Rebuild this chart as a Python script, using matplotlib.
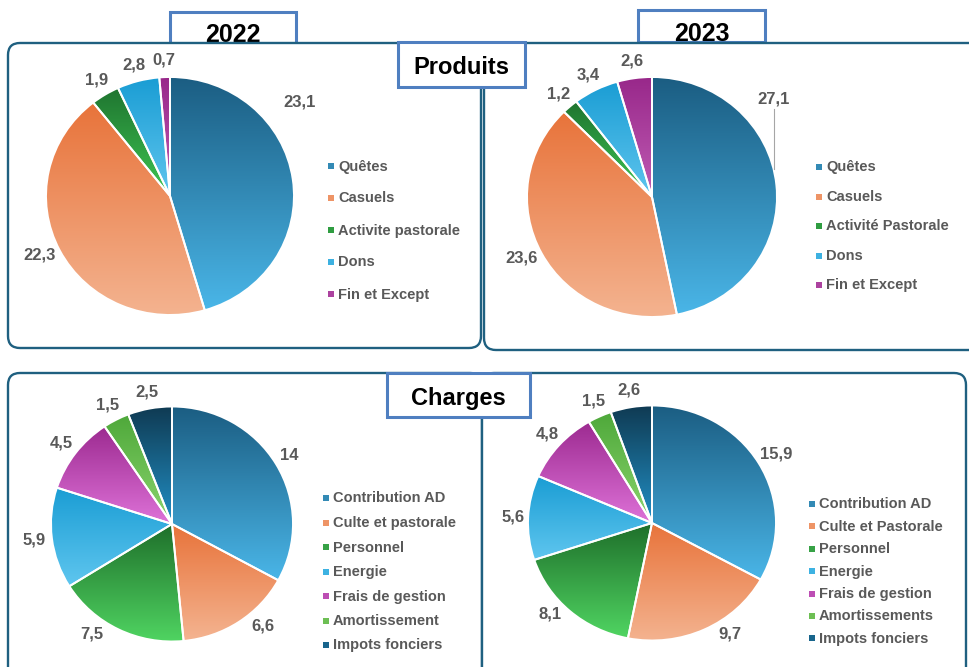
import numpy as np
import matplotlib
matplotlib.use('Agg')
import matplotlib.pyplot as plt
from matplotlib.colors import LinearSegmentedColormap, to_rgb
from matplotlib.patches import FancyBboxPatch, Rectangle

plt.rcParams['font.family'] = ['Liberation Sans', 'DejaVu Sans']

W, H = 969, 667

# data
produits_2022_labels = ['Quêtes', 'Casuels', 'Activite pastorale', 'Dons', 'Fin et Except']
produits_2022_values = [23.1, 22.3, 1.9, 2.8, 0.7]
produits_2023_labels = ['Quêtes', 'Casuels', 'Activité Pastorale', 'Dons', 'Fin et Except']
produits_2023_values = [27.1, 23.6, 1.2, 3.4, 2.6]
charges_2022_labels = ['Contribution AD', 'Culte et pastorale', 'Personnel', 'Energie',
                       'Frais de gestion', 'Amortissement', 'Impots fonciers']
charges_2022_values = [14, 6.6, 7.5, 5.9, 4.5, 1.5, 2.5]
charges_2023_labels = ['Contribution AD', 'Culte et Pastorale', 'Personnel', 'Energie',
                       'Frais de gestion', 'Amortissements', 'Impots fonciers']
charges_2023_values = [15.9, 9.7, 8.1, 5.6, 4.8, 1.5, 2.6]

# gradient (top, bottom) for each slice
produits_colors = [('#1b5d82', '#4ab6e8'), ('#e8733a', '#f4b491'), ('#1f7430', '#3ec652'),
                   ('#1a9dd4', '#5fc5ee'), ('#98288a', '#c05cb4')]
charges_colors = [('#1b5d82', '#4ab6e8'), ('#e8733a', '#f4b491'), ('#1e6e2a', '#50d562'),
                  ('#1a9dd4', '#5fc6ef'), ('#9c2a90', '#de72d8'), ('#4ea83a', '#8bd56e'),
                  ('#0f3a52', '#2290c6')]

GREY = '#595959'
PANEL = '#1f6080'
BOX = '#4f7fc0'

fig = plt.figure(figsize=(W / 100, H / 100), dpi=100)

bg = fig.add_axes([0, 0, 1, 1], zorder=0)
bg.set_xlim(0, W)
bg.set_ylim(H, 0)
bg.axis('off')


def title_box(x0, y0, x1, y1, text, z, fs, dy=3):
    bg.add_patch(Rectangle((x0, y0), x1 - x0, y1 - y0, facecolor='white',
                           edgecolor=BOX, linewidth=2.2, zorder=z))
    bg.text((x0 + x1) / 2, (y0 + y1) / 2 + dy, text, ha='center', va='center',
            fontsize=fs, fontweight='bold', color='black', zorder=z)


def panel(x0, y0, x1, y1):
    bg.add_patch(FancyBboxPatch((x0, y0), x1 - x0, y1 - y0,
                                boxstyle='round,pad=0,rounding_size=12',
                                facecolor='white', edgecolor=PANEL, linewidth=1.7, zorder=2))


# year boxes sit under the panels (their bottom is hidden by the panel)
title_box(170, 12, 296, 43, '2022', 1, 18, dy=8)
title_box(638, 10, 765, 42, '2023', 1, 18, dy=8)

panel(8, 43, 481, 348)
panel(484, 43, 985, 350)
panel(8, 373, 482, 700)
panel(482, 373, 966, 700)

title_box(398, 42, 525, 87, 'Produits', 3, 17)
title_box(387, 373, 530, 417, 'Charges', 3, 17)


def fmt(v):
    return ('%g' % v).replace('.', ',')


def draw_pie(cx, cy, rx, ry, values, colors, lift=None):
    ax = fig.add_axes([(cx - rx) / W, (H - cy - ry) / H, 2 * rx / W, 2 * ry / H], zorder=2)
    ax.patch.set_visible(False)
    wedges, _ = ax.pie(values, startangle=90, counterclock=False, radius=1,
                       wedgeprops=dict(edgecolor='white', linewidth=1.4, facecolor='none'))
    grad = np.linspace(0, 1, 256).reshape(-1, 1)
    for w, (c1, c2) in zip(wedges, colors):
        v = w.get_path().vertices
        cmap = LinearSegmentedColormap.from_list('g', [c1, c2])
        im = ax.imshow(grad, cmap=cmap, origin='upper', aspect='auto', zorder=0,
                       interpolation='bilinear',
                       extent=[v[:, 0].min(), v[:, 0].max(), v[:, 1].min(), v[:, 1].max()])
        im.set_clip_path(w)
        w.set_zorder(1)
    gap = 10  # px between pie edge and label box
    for i, (w, val) in enumerate(zip(wedges, values)):
        txt = fmt(val)
        deg = ((w.theta1 + w.theta2) / 2) % 360
        # labels under the pie slide sideways, away from the bottom
        if 180 < deg < 360:
            d = abs(deg - 270)
            push = max(0.0, 14 - 0.2 * d)
            deg = deg + push if deg > 270 else deg - push
        ang = np.deg2rad(deg)
        tw = 9.3 * sum(ch.isdigit() for ch in txt) + 4.6 * txt.count(',')
        th = 14
        xp = np.cos(ang) * (ry + gap + tw / 2)
        yp = np.sin(ang) * (ry + gap + th / 2)
        x, y = xp / rx, yp / ry
        if lift is not None and i == 0:
            a = np.deg2rad(lift[0])
            x, y = lift[1] * np.cos(a), lift[1] * np.sin(a)
        ax.text(x, y, txt, ha='center', va='center', fontsize=12,
                fontweight='bold', color=GREY, clip_on=False)
        if lift is not None and i == 0 and lift[2]:
            ax.plot([x, x], [y - 0.08, np.sqrt(1 - x ** 2)], color='#a6a6a6',
                    linewidth=0.8, clip_on=False)
    ax.set_xlim(-1, 1)
    ax.set_ylim(-1, 1)
    ax.set_aspect('auto')
    ax.axis('off')


def legend(x, y0, step, labels, colors):
    for i, (lab, (c1, c2)) in enumerate(zip(labels, colors)):
        y = y0 + i * step
        mid = tuple((np.array(to_rgb(c1)) + np.array(to_rgb(c2))) / 2)
        bg.add_patch(Rectangle((x, y - 3), 6, 6, facecolor=mid, edgecolor='none', zorder=4))
        bg.text(x + 10, y + 0.5, lab, ha='left', va='center', fontsize=10.5,
                fontweight='bold', color=GREY, zorder=4)


draw_pie(170, 196, 124, 119, produits_2022_values, produits_colors, lift=(37, 1.31, False))
draw_pie(652, 197, 125, 120, produits_2023_values, produits_colors, lift=(40, 1.27, True))
draw_pie(172, 524, 121, 117.5, charges_2022_values, charges_colors)
draw_pie(652, 523, 124, 117.5, charges_2023_values, charges_colors)

legend(328, 166, 32, produits_2022_labels, produits_colors)
legend(816, 167, 29.5, produits_2023_labels, produits_colors)
legend(323, 498, 24.5, charges_2022_labels, charges_colors)
legend(809, 504, 22.4, charges_2023_labels, charges_colors)

fig.savefig('out.png', dpi=100)
